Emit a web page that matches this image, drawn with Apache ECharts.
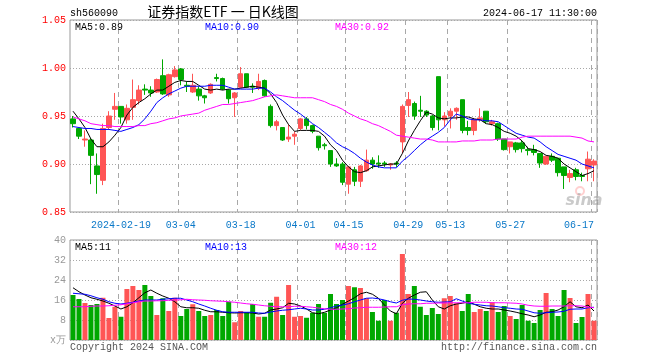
<!DOCTYPE html>
<html><head><meta charset="utf-8">
<script src="https://cdn.jsdelivr.net/npm/echarts@6/dist/echarts.min.js"></script>
<style>html,body{margin:0;padding:0;background:#fff}#c{width:660px;height:360px}</style>
</head><body><div id="c"></div>
<script>
const dates = ['2024-01-30','2024-01-31','2024-02-01','2024-02-02','2024-02-05','2024-02-06','2024-02-07','2024-02-08','2024-02-19','2024-02-20',
'2024-02-21','2024-02-22','2024-02-23','2024-02-26','2024-02-27','2024-02-28','2024-02-29','2024-03-01','2024-03-04','2024-03-05',
'2024-03-06','2024-03-07','2024-03-08','2024-03-11','2024-03-12','2024-03-13','2024-03-14','2024-03-15','2024-03-18','2024-03-19',
'2024-03-20','2024-03-21','2024-03-22','2024-03-25','2024-03-26','2024-03-27','2024-03-28','2024-03-29','2024-04-01','2024-04-02',
'2024-04-03','2024-04-08','2024-04-09','2024-04-10','2024-04-11','2024-04-12','2024-04-15','2024-04-16','2024-04-17','2024-04-18',
'2024-04-19','2024-04-22','2024-04-23','2024-04-24','2024-04-25','2024-04-26','2024-04-29','2024-04-30','2024-05-06','2024-05-07',
'2024-05-08','2024-05-09','2024-05-10','2024-05-13','2024-05-14','2024-05-15','2024-05-16','2024-05-17','2024-05-20','2024-05-21',
'2024-05-22','2024-05-23','2024-05-24','2024-05-27','2024-05-28','2024-05-29','2024-05-30','2024-05-31','2024-06-03','2024-06-04',
'2024-06-05','2024-06-06','2024-06-07','2024-06-11','2024-06-12','2024-06-13','2024-06-14','2024-06-17'];

const opens = [0.947,0.937,0.925,0.925,0.898,0.883,0.938,0.957,0.960,0.946,
0.959,0.966,0.978,0.977,0.975,0.992,0.972,0.991,0.999,0.982,
0.975,0.978,0.971,0.974,0.990,0.989,0.977,0.969,0.980,0.994,
0.981,0.979,0.987,0.960,0.940,0.938,0.926,0.929,0.937,0.947,
0.940,0.929,0.920,0.914,0.900,0.900,0.879,0.894,0.882,0.893,
0.904,0.901,0.901,0.899,0.901,0.923,0.961,0.963,0.956,0.955,
0.950,0.991,0.946,0.950,0.955,0.967,0.938,0.935,0.946,0.955,
0.942,0.942,0.926,0.918,0.922,0.922,0.915,0.915,0.911,0.900,
0.908,0.906,0.897,0.886,0.894,0.888,0.895,0.899];

const closes = [0.942,0.929,0.926,0.909,0.889,0.937,0.950,0.960,0.949,0.958,
0.967,0.977,0.977,0.974,0.988,0.973,0.993,0.998,0.988,0.981,
0.982,0.971,0.969,0.983,0.989,0.978,0.968,0.974,0.994,0.980,
0.980,0.986,0.971,0.940,0.944,0.925,0.928,0.931,0.947,0.940,
0.934,0.917,0.919,0.900,0.898,0.881,0.897,0.882,0.898,0.904,
0.900,0.900,0.900,0.900,0.900,0.960,0.967,0.950,0.955,0.951,
0.938,0.946,0.950,0.955,0.958,0.935,0.935,0.946,0.948,0.944,
0.944,0.926,0.915,0.923,0.915,0.916,0.914,0.912,0.901,0.908,
0.904,0.891,0.888,0.890,0.887,0.887,0.905,0.903];

const lows = [0.938,0.926,0.918,0.879,0.869,0.878,0.936,0.946,0.942,0.942,
0.946,0.962,0.972,0.970,0.974,0.972,0.970,0.990,0.982,0.975,
0.974,0.966,0.963,0.973,0.986,0.977,0.963,0.949,0.979,0.979,
0.974,0.977,0.970,0.938,0.935,0.924,0.923,0.920,0.935,0.936,
0.932,0.914,0.915,0.897,0.897,0.878,0.869,0.877,0.876,0.892,
0.895,0.896,0.897,0.894,0.897,0.911,0.949,0.946,0.949,0.949,
0.935,0.935,0.939,0.937,0.946,0.932,0.930,0.930,0.944,0.942,
0.940,0.924,0.914,0.911,0.912,0.912,0.909,0.909,0.896,0.899,
0.902,0.887,0.874,0.881,0.883,0.882,0.882,0.882];

const highs = [0.950,0.938,0.935,0.927,0.911,0.942,0.955,0.974,0.960,0.962,
0.988,0.982,0.983,0.981,0.989,1.009,0.994,1.002,1.000,0.986,
0.994,0.981,0.972,0.984,0.994,0.990,0.978,0.975,1.001,0.994,
0.984,0.994,0.988,0.962,0.946,0.938,0.941,0.934,0.948,0.949,
0.941,0.929,0.922,0.914,0.906,0.902,0.898,0.897,0.899,0.915,
0.907,0.909,0.903,0.901,0.903,0.962,0.975,0.965,0.971,0.956,
0.951,0.991,0.954,0.958,0.959,0.967,0.945,0.948,0.958,0.955,
0.946,0.943,0.926,0.923,0.923,0.924,0.918,0.920,0.911,0.908,
0.911,0.906,0.897,0.894,0.896,0.891,0.913,0.905];

const ma5 = [0.955,0.947,0.938,0.926,0.918,0.918,0.923,0.930,0.938,0.951,
0.959,0.964,0.968,0.973,0.977,0.977,0.981,0.985,0.987,0.986,
0.986,0.982,0.978,0.977,0.978,0.977,0.978,0.978,0.979,0.980,
0.981,0.980,0.979,0.973,0.964,0.951,0.941,0.934,0.935,0.935,
0.935,0.934,0.929,0.920,0.914,0.904,0.897,0.892,0.891,0.893,
0.897,0.898,0.899,0.900,0.900,0.911,0.924,0.935,0.945,0.954,
0.952,0.948,0.947,0.948,0.948,0.949,0.949,0.947,0.946,0.942,
0.941,0.938,0.934,0.932,0.929,0.924,0.916,0.915,0.913,0.909,
0.908,0.906,0.900,0.896,0.892,0.888,0.890,0.893];

const ma10 = [0.939,0.938,0.937,0.937,0.936,0.936,0.936,0.935,0.934,0.936,
0.938,0.941,0.947,0.955,0.964,0.969,0.973,0.976,0.979,0.981,
0.981,0.981,0.981,0.982,0.982,0.982,0.980,0.978,0.978,0.978,
0.978,0.979,0.979,0.975,0.970,0.966,0.961,0.956,0.952,0.947,
0.942,0.938,0.933,0.928,0.922,0.918,0.915,0.911,0.906,0.902,
0.899,0.897,0.896,0.896,0.896,0.903,0.908,0.914,0.920,0.925,
0.929,0.933,0.938,0.946,0.952,0.950,0.947,0.946,0.946,0.945,
0.945,0.944,0.940,0.936,0.932,0.930,0.928,0.927,0.923,0.918,
0.914,0.910,0.908,0.906,0.904,0.900,0.898,0.896];

const ma30 = [0.949,0.947,0.945,0.942,0.941,0.940,0.940,0.939,0.939,0.939,
0.939,0.940,0.940,0.942,0.943,0.945,0.947,0.948,0.950,0.951,
0.952,0.953,0.956,0.958,0.960,0.962,0.962,0.963,0.964,0.965,
0.966,0.968,0.970,0.971,0.972,0.971,0.970,0.969,0.969,0.969,
0.969,0.967,0.965,0.962,0.960,0.957,0.953,0.950,0.947,0.945,
0.942,0.940,0.937,0.934,0.930,0.929,0.928,0.927,0.926,0.926,
0.925,0.923,0.923,0.923,0.923,0.924,0.924,0.924,0.925,0.925,
0.925,0.926,0.926,0.926,0.926,0.928,0.929,0.929,0.929,0.929,
0.929,0.929,0.929,0.929,0.928,0.927,0.924,0.923];

const volumes = [18.0,16.4,14.8,14.0,14.4,16.9,8.8,13.3,9.3,20.4,
21.6,20.0,22.0,17.6,10.0,16.7,11.6,16.9,9.6,12.4,
14.3,11.6,9.6,10.0,12.0,9.6,15.3,7.1,11.6,11.1,
14.4,9.3,9.3,14.9,17.3,10.0,22.0,9.3,9.6,8.9,
10.9,14.4,10.9,18.4,14.4,16.0,21.6,21.1,20.8,16.7,
11.2,7.7,16.0,7.7,10.9,34.4,18.4,21.6,13.3,10.0,
12.8,10.4,16.7,17.6,14.7,11.6,18.4,11.2,12.4,11.6,
15.1,11.2,13.6,9.6,8.4,14.0,7.7,6.8,12.0,18.8,
12.4,9.6,20.0,16.8,6.8,9.2,18.4,7.7];

const vma5 = [20.9,19.3,18.0,16.9,16.3,15.6,14.7,13.6,12.4,13.3,
14.9,16.9,18.9,20.0,18.7,17.6,16.7,15.3,13.3,12.9,
12.9,12.7,11.9,11.3,11.3,11.1,10.9,10.8,10.9,10.9,
10.8,10.4,10.7,12.0,12.4,12.9,14.7,14.4,13.6,12.4,
10.9,10.5,11.1,12.0,12.9,14.3,15.6,16.9,18.5,19.1,
18.3,16.7,14.0,11.6,10.5,14.7,16.7,18.0,19.1,19.3,
16.0,13.3,12.4,13.7,14.4,14.7,15.3,14.3,13.3,12.7,
12.4,12.4,12.0,11.6,11.1,10.5,10.0,9.3,10.0,11.1,
11.3,12.0,13.3,15.3,13.3,12.9,14.0,11.6];

const vma10 = [18.7,18.5,18.3,17.7,16.9,16.3,15.3,14.7,14.4,14.7,
15.1,15.6,16.0,16.0,16.0,16.3,16.5,16.7,16.7,16.0,
15.3,14.4,13.6,12.7,11.9,11.3,11.1,11.1,11.1,11.1,
11.1,10.8,10.7,11.2,11.6,11.9,12.1,12.4,12.7,12.4,
12.0,12.0,12.3,12.9,13.6,14.0,14.5,15.3,16.0,16.7,
16.8,16.5,16.0,15.3,14.8,15.9,16.4,16.3,16.0,15.6,
15.3,15.1,15.2,15.3,16.5,15.6,14.7,14.3,14.0,13.7,
13.6,13.3,12.9,12.7,12.4,12.3,11.6,10.9,10.7,10.9,
11.1,11.2,11.5,12.3,12.4,12.4,12.9,13.1];

const vma30 = [13.3,13.3,13.3,13.5,13.6,13.6,13.7,13.9,14.1,14.5,
14.9,15.3,15.6,15.6,15.7,15.7,15.9,16.0,16.1,16.3,
16.1,16.0,15.9,15.7,15.6,15.5,15.3,15.1,14.8,14.5,
14.3,14.0,13.7,13.5,13.3,13.3,13.3,13.5,13.5,13.3,
13.1,12.8,12.5,12.3,12.3,12.4,12.5,12.8,12.9,13.1,
13.1,13.1,13.2,13.3,13.3,14.1,14.4,14.5,14.5,14.7,
14.7,14.8,14.8,14.9,14.9,14.9,14.9,15.1,15.1,15.1,
14.9,14.9,14.9,14.8,14.7,14.4,13.9,13.6,13.5,13.5,
13.6,13.6,13.6,13.7,13.7,13.6,13.2,12.9];

const tickDates = ['2024-02-19','2024-03-04','2024-03-18','2024-04-01','2024-04-15','2024-04-29','2024-05-13','2024-05-27','2024-06-17'];

const UP = '#ff5555', DOWN = '#00a800';
const MONO = '"Liberation Mono","DejaVu Sans Mono",monospace';
const tickSet = new Set(tickDates);
const showTick = (idx, val) => tickSet.has(val !== undefined ? val : dates[idx]);
const GRIDLINE = '#a8a8a8';

const chart = echarts.init(document.getElementById('c'), null, {renderer: 'canvas'});

function txt(text, x, y, fill, opt) {
  opt = opt || {};
  return {
    type: 'text', z: 100, silent: true,
    style: {
      text: text, x: x, y: y, fill: fill,
      font: opt.font || ('10px ' + MONO),
      align: opt.align || 'left', verticalAlign: 'middle'
    }
  };
}

const option = {
  animation: false,
  backgroundColor: '#ffffff',
  grid: [
    {left: 70, top: 20, width: 527, height: 192, show: true, borderColor: '#999', borderWidth: 1, backgroundColor: 'transparent', outerBoundsMode: 'none'},
    {left: 70, top: 240, width: 527, height: 100, show: true, borderColor: '#999', borderWidth: 1, backgroundColor: 'transparent', outerBoundsMode: 'none'}
  ],
  xAxis: [
    {
      type: 'category', gridIndex: 0, data: dates, boundaryGap: true,
      axisLine: {show: false}, axisTick: {show: false},
      axisLabel: {
        interval: showTick,
        formatter: v => v === tickDates[0] ? v : v.slice(5),
        color: '#0a78c8', fontFamily: MONO, fontSize: 10, margin: 8,
        alignMaxLabel: 'right'
      },
      splitLine: {show: true, interval: showTick, lineStyle: {color: GRIDLINE, type: [5, 4], width: 1}}
    },
    {
      type: 'category', gridIndex: 1, data: dates, boundaryGap: true,
      axisLine: {show: false}, axisTick: {show: false}, axisLabel: {show: false},
      splitLine: {show: true, interval: showTick, lineStyle: {color: GRIDLINE, type: [5, 4], width: 1}}
    }
  ],
  yAxis: [
    {
      type: 'value', gridIndex: 0, min: 0.85, max: 1.05, interval: 0.05, scale: true,
      axisLine: {show: false}, axisTick: {show: false},
      axisLabel: {formatter: v => v.toFixed(2), color: '#ff0000', fontFamily: MONO, fontSize: 10, margin: 4},
      splitLine: {show: true, lineStyle: {color: GRIDLINE, type: [1, 2], width: 1}}
    },
    {
      type: 'value', gridIndex: 1, min: 0, max: 40, interval: 8,
      axisLine: {show: false}, axisTick: {show: false},
      axisLabel: {formatter: v => v === 0 ? 'x万' : String(v), color: '#999', fontFamily: MONO, fontSize: 10, margin: 4},
      splitLine: {show: true, lineStyle: {color: GRIDLINE, type: [1, 2], width: 1}}
    }
  ],
  series: [
    {
      type: 'candlestick', xAxisIndex: 0, yAxisIndex: 0, barWidth: 5,
      data: dates.map((d, i) => [opens[i], closes[i], lows[i], highs[i]]),
      itemStyle: {color: UP, color0: DOWN, borderColor: UP, borderColor0: DOWN, borderWidth: 1}
    },
    {type: 'line', xAxisIndex: 0, yAxisIndex: 0, data: ma5, showSymbol: false, symbol: 'none', lineStyle: {color: '#000000', width: 1}, z: 5},
    {type: 'line', xAxisIndex: 0, yAxisIndex: 0, data: ma10, showSymbol: false, symbol: 'none', lineStyle: {color: '#0000ff', width: 1}, z: 5},
    {type: 'line', xAxisIndex: 0, yAxisIndex: 0, data: ma30, showSymbol: false, symbol: 'none', lineStyle: {color: '#ff00ff', width: 1}, z: 5},
    {
      type: 'bar', xAxisIndex: 1, yAxisIndex: 1, barWidth: 5,
      data: volumes.map((v, i) => ({value: v, itemStyle: {color: closes[i] >= opens[i] ? UP : DOWN}}))
    },
    {type: 'line', xAxisIndex: 1, yAxisIndex: 1, data: vma5, showSymbol: false, symbol: 'none', lineStyle: {color: '#000000', width: 1}, z: 5},
    {type: 'line', xAxisIndex: 1, yAxisIndex: 1, data: vma10, showSymbol: false, symbol: 'none', lineStyle: {color: '#0000ff', width: 1}, z: 5},
    {type: 'line', xAxisIndex: 1, yAxisIndex: 1, data: vma30, showSymbol: false, symbol: 'none', lineStyle: {color: '#ff00ff', width: 1}, z: 5}
  ],
  graphic: [
    txt('sh560090', 70, 13, '#000'),
    txt('证券指数ETF 一 日K线图', 223, 12, '#000', {align: 'center', font: '14px "Noto Sans CJK SC", sans-serif'}),
    txt('2024-06-17 11:30:00', 597, 13, '#000', {align: 'right'}),
    txt('MA5:0.89', 75, 27, '#000'),
    txt('MA10:0.90', 205, 27, '#0000ff'),
    txt('MA30:0.92', 335, 27, '#ff00ff'),
    txt('MA5:11', 75, 247, '#000'),
    txt('MA10:13', 205, 247, '#0000ff'),
    txt('MA30:12', 335, 247, '#ff00ff'),
    txt('Copyright 2024 SINA.COM', 70, 347, '#555'),
    txt('http://finance.sina.com.cn', 597, 347, '#555', {align: 'right'}),
    txt('sina', 584, 201, 'rgba(150,150,150,0.5)', {align: 'center', font: 'italic bold 16px "DejaVu Sans", sans-serif'}),
    {type: 'circle', z: 99, silent: true, shape: {cx: 580, cy: 191, r: 4}, style: {fill: 'none', stroke: 'rgba(255,120,120,0.35)', lineWidth: 2}}
  ]
};
chart.setOption(option);
</script>
</body></html>
